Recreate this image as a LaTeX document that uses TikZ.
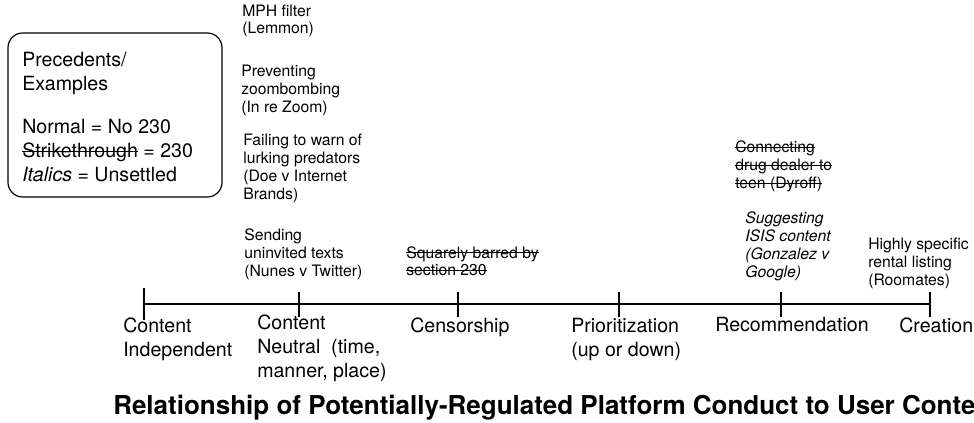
\documentclass[tikz,border=0pt]{standalone}
\usepackage{fontspec}
\setmainfont{TeX Gyre Heros}
\newsavebox\strkbox
\newcommand\strk[1]{\sbox\strkbox{#1}\leavevmode\rlap{\vrule height 0.37em depth -0.30em width \wd\strkbox}\usebox\strkbox}
\begin{document}
\begin{tikzpicture}[x=0.75pt,y=-0.75pt,
  small/.style={font=\fontsize{11.8}{13.4}\selectfont, align=left, anchor=base west, inner sep=0pt},
  big/.style={font=\fontsize{14.7}{18}\selectfont, align=left, anchor=base west, inner sep=0pt},
  axisline/.style={line width=1.8pt},
  tickmark/.style={line width=1.8pt},
  legendbox/.style={draw, line width=0.9pt, rounded corners=11pt}]
\useasboundingbox (0,0) rectangle (974,423);

% legend
\draw[legendbox] (8,33) rectangle (222,197);
\node[big] (lg1) at (22,91) {Precedents/\\Examples};
\node[big] (lg2) at (22,182) {Normal = No 230\\\strk{Strikethrough} = 230\\\textit{Italics} = Unsettled};

% axis
\coordinate (a0) at (144,304);
\coordinate (a1) at (299,304);
\coordinate (a2) at (458,304);
\coordinate (a3) at (619,304);
\coordinate (a4) at (781,304);
\coordinate (a5) at (930,304);
\draw[axisline] (a0) -- (a5);
\draw[tickmark] ([yshift=-12]a0) -- ([yshift=12]a0);
\foreach \t in {a1,a2,a3,a4,a5}
  \draw[tickmark] ([yshift=-10]\t) -- ([yshift=9]\t);

% labels below axis (anchored at the baseline of the last line)
\node[big] (l0) at (123,357) {Content\\Independent};
\node[big] (l1) at (257,378) {Content\\Neutral~ (time,\\manner, place)};
\node[big] (l2) at (410,333) {Censorship};
\node[big] (l3) at (571,357) {Prioritization\\(up or down)};
\node[big] (l4) at (715,332) {Recommendation};
\node[big] (l5) at (899,333) {Creation};

% examples above axis
\node[small] (e1) at (242,34) {MPH filter\\(Lemmon)};
\node[small] (e2) at (241,112.5) {Preventing\\zoombombing\\(In re Zoom)};
\node[small] (e3) at (243,199.5) {Failing to warn of\\lurking predators\\(Doe v Internet\\Brands)};
\node[small] (e4) at (244,276.5) {Sending\\uninvited texts\\(Nunes v Twitter)};
\node[small] (e5) at (406,276) {\strk{Squarely barred by}\\\strk{section 230}};
\node[small] (e6) at (735,188.5) {\strk{Connecting}\\\strk{drug dealer to}\\\strk{teen (Dyroff)}};
\node[small,font=\fontsize{11.8}{13.4}\selectfont\itshape] (e7) at (745,277.5) {Suggesting\\ISIS content\\(Gonzalez v\\Google)};
\node[small] (e8) at (868,285.5) {Highly specific\\rental listing\\(Roomates)};

% title
\node[anchor=base west, inner sep=0pt, font=\fontsize{19.5}{22}\selectfont\bfseries] (title) at (113,415)
  {Relationship of Potentially-Regulated Platform Conduct to User Content};
\end{tikzpicture}
\end{document}
